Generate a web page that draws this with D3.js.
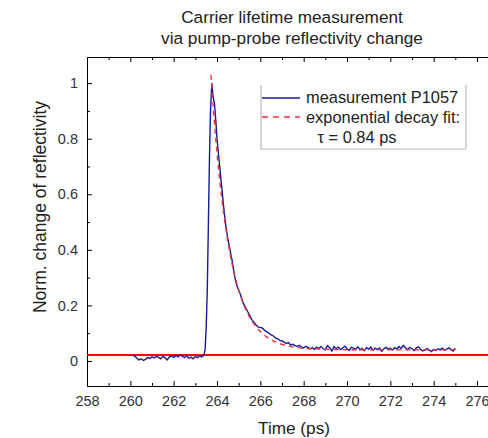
<!DOCTYPE html>
<html><head><meta charset="utf-8">
<script src="https://cdn.jsdelivr.net/npm/d3@7"></script>
<style>
html,body{margin:0;padding:0;background:#fff;}
svg{display:block;font-family:"Liberation Sans",Arial,sans-serif;}
</style></head>
<body><svg id="chart" width="488" height="438"></svg>
<script>
// ---- data ----
const titleLines = ["Carrier lifetime measurement", "via pump-probe reflectivity change"];
const xLabel = "Time (ps)";
const yLabel = "Norm. change of reflectivity";
const xTicks = [258,260,262,264,266,268,270,272,274,276];
const yTicks = [0,0.2,0.4,0.6,0.8,1];
const yTickLabels = ["0","0.2","0.4","0.6","0.8","1"];
const legendLabels = ["measurement P1057", "exponential decay fit:", "\u03c4 = 0.84 ps"];

// measurement: baseline segment (260.1 .. 263.4, step 0.1)
const baseStart = 260.1, baseStep = 0.1;
const baseValues = [0.020,0.018,0.010,0.004,0.008,0.002,0.006,0.012,0.009,0.015,
  0.011,0.017,0.013,0.008,0.016,0.012,0.004,0.014,0.018,0.013,
  0.020,0.015,0.022,0.017,0.012,0.019,0.010,0.014,0.008,0.016,
  0.012,0.018,0.015,0.022];
// rise and peak
const riseTimes  = [263.45,263.50,263.55,263.60,263.65,263.70,263.76,263.82,263.88,263.95];
const riseValues = [0.04,0.12,0.25,0.48,0.72,0.90,1.00,0.95,0.93,0.86];
// decay + tail segment (264.0 .. 275.0, step 0.1)
const tailStart = 264.0, tailStep = 0.1;
const tailValues = [0.80,0.72,0.64,0.56,0.49,0.44,0.40,0.36,0.31,0.275,
  0.255,0.235,0.21,0.195,0.18,0.165,0.15,0.14,0.13,0.122,
  0.121,0.118,0.110,0.105,0.100,0.094,0.090,0.083,0.080,0.074,
  0.072,0.068,0.063,0.066,0.058,0.060,0.055,0.052,0.056,0.050,
  0.047,0.053,0.049,0.044,0.048,0.042,0.050,0.045,0.052,0.044,
  0.040,0.055,0.048,0.036,0.052,0.045,0.050,0.041,0.047,0.053,
  0.044,0.038,0.049,0.046,0.042,0.051,0.040,0.045,0.037,0.048,
  0.043,0.050,0.039,0.046,0.041,0.047,0.035,0.044,0.049,0.042,
  0.046,0.040,0.048,0.043,0.052,0.045,0.056,0.047,0.041,0.049,
  0.044,0.038,0.047,0.051,0.042,0.036,0.040,0.045,0.039,0.034,
  0.042,0.038,0.044,0.040,0.046,0.039,0.043,0.047,0.041,0.036,
  0.046];
// fit curve
const fitTimes  = [263.72,263.82,263.92,264.02,264.12,264.22,264.32,264.42,264.52,264.62,264.72,
  264.92,265.12,265.32,265.52,265.72,266.02,266.32,266.72,267.22,267.72,268.72,269.72,271.72,275.0];
const fitValues = [1.03,0.919,0.820,0.733,0.655,0.586,0.525,0.471,0.422,0.380,0.341,
  0.277,0.227,0.187,0.156,0.132,0.104,0.085,0.068,0.055,0.048,0.043,0.041,0.040,0.040];
// horizontal reference line level
const refLevel = 0.022;

// ---- layout ----
const svg = d3.select("#chart");
const x = d3.scaleLinear().domain([258, 276.6]).range([87, 490]);
const y = d3.scaleLinear().domain([-0.09, 1.094]).range([386, 57]);

const meas = [];
baseValues.forEach((v,i)=>meas.push([baseStart + i*baseStep, v]));
riseTimes.forEach((t,i)=>meas.push([t, riseValues[i]]));
tailValues.forEach((v,i)=>meas.push([tailStart + i*tailStep, v]));
const fit = fitTimes.map((t,i)=>[t, fitValues[i]]);

// title
svg.append("g").selectAll("text").data(titleLines).join("text")
  .attr("x", 292).attr("y", (d,i)=>23 + i*21)
  .attr("text-anchor","middle").attr("font-size", 17.2).attr("fill","#222")
  .text(d=>d);

// axes
const xMinor = d3.range(259, 277, 2);
const yMinor = [0.1,0.3,0.5,0.7,0.9];
const gBottom = svg.append("g").attr("transform","translate(0,386)")
  .call(d3.axisBottom(x).tickValues(xTicks).tickSize(-5).tickPadding(10).tickFormat(d3.format("d")));
const gBottomMinor = svg.append("g").attr("transform","translate(0,386)")
  .call(d3.axisBottom(x).tickValues(xMinor).tickSize(-3).tickFormat(""));
const gTop = svg.append("g").attr("transform","translate(0,57)")
  .call(d3.axisTop(x).tickValues(xTicks).tickSize(-5).tickFormat(""));
const gTopMinor = svg.append("g").attr("transform","translate(0,57)")
  .call(d3.axisTop(x).tickValues(xMinor).tickSize(-3).tickFormat(""));
const gLeft = svg.append("g").attr("transform","translate(87,0)")
  .call(d3.axisLeft(y).tickValues(yTicks).tickSize(-5).tickPadding(9).tickFormat((d,i)=>yTickLabels[i]));
const gLeftMinor = svg.append("g").attr("transform","translate(87,0)")
  .call(d3.axisLeft(y).tickValues(yMinor).tickSize(-3).tickFormat(""));
[gBottom,gBottomMinor,gTop,gTopMinor,gLeft,gLeftMinor].forEach(g=>{
  g.select(".domain").attr("stroke","#000").attr("stroke-width",1);
  g.selectAll(".tick line").attr("stroke","#000");
  g.selectAll("text").attr("font-size",14.5).attr("fill","#333").attr("font-family","Liberation Sans, Arial, sans-serif");
});
[gBottomMinor, gTopMinor, gLeftMinor].forEach(g=>g.select(".domain").remove());

// axis titles
svg.append("text").attr("x", 294).attr("y", 434).attr("text-anchor","middle")
  .attr("font-size",17.2).attr("fill","#222").text(xLabel);
svg.append("text").attr("transform","translate(46,207) rotate(-90)").attr("text-anchor","middle")
  .attr("font-size",17.5).attr("fill","#222").text(yLabel);

// reference line
svg.append("line").attr("x1", x(258)).attr("x2", 490).attr("y1", y(refLevel)).attr("y2", y(refLevel))
  .attr("stroke","#ff0000").attr("stroke-width",2);

const line = d3.line().x(d=>x(d[0])).y(d=>y(d[1]));
svg.append("path").datum(meas).attr("d", line).attr("fill","none")
  .attr("stroke","#1a1a9a").attr("stroke-width",1.4);
svg.append("path").datum(fit).attr("d", d3.line().curve(d3.curveMonotoneX).x(d=>x(d[0])).y(d=>y(d[1])))
  .attr("fill","none").attr("stroke","#e8333a").attr("stroke-width",1.4).attr("stroke-dasharray","5,4");

// legend
const lg = svg.append("g");
lg.append("path").attr("d","M261,85 V149 H466 V85").attr("fill","none").attr("stroke","#b8b8b8").attr("stroke-width",1.2);
lg.append("line").attr("x1",262).attr("x2",300).attr("y1",98).attr("y2",98).attr("stroke","#1a1a9a").attr("stroke-width",1.5);
lg.append("line").attr("x1",262).attr("x2",300).attr("y1",117).attr("y2",117).attr("stroke","#e8333a").attr("stroke-width",1.5).attr("stroke-dasharray","6,5");
lg.append("text").attr("x",306).attr("y",103).attr("font-size",16.4).attr("fill","#222").text(legendLabels[0]);
lg.append("text").attr("x",306).attr("y",122.5).attr("font-size",16.4).attr("fill","#222").text(legendLabels[1]);
lg.append("text").attr("x",357).attr("y",143).attr("text-anchor","middle").attr("font-size",16.4).attr("fill","#222").text(legendLabels[2]);
</script></body></html>
